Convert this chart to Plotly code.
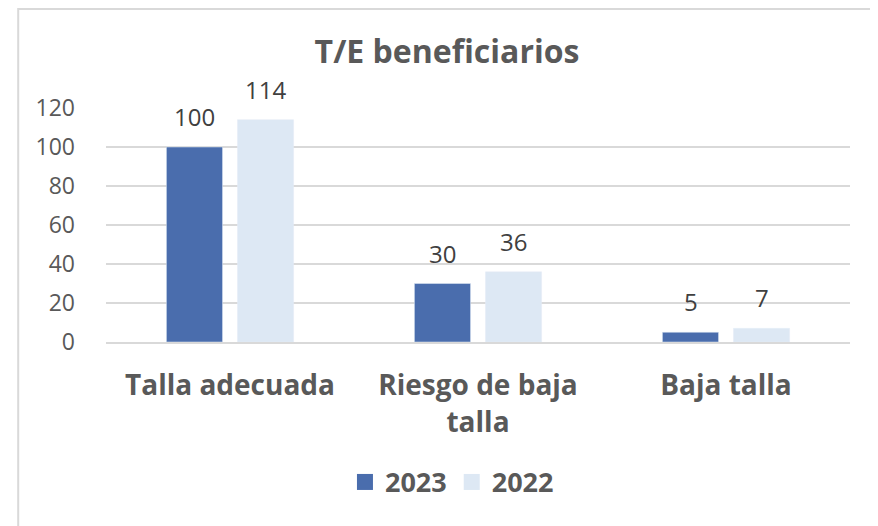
import plotly.graph_objects as go

categories = ["Talla adecuada", "Riesgo de baja<br>talla", "Baja talla"]
values_2023 = [100, 30, 5]
values_2022 = [114, 36, 7]
tick_vals = [0, 20, 40, 60, 80, 100, 120]
series_names = ["2023", "2022"]
series_colors = ["#4A6DAD", "#DDE8F4"]

FONT = "Open Sans"
TXT = "#595959"

fig = go.Figure()
series_values = [values_2023, values_2022]
for name, vals, col in zip(series_names, series_values, series_colors):
    fig.add_bar(name=name, x=categories, y=vals, marker_color=col,
                showlegend=False)
# legend-only entries with larger square swatches
for name, col in zip(series_names, series_colors):
    fig.add_scatter(name=name, x=[None], y=[None], mode="markers",
                    marker=dict(symbol="square", size=16, color=col))

# value labels above each bar (offset to grouped bar centres)
annotations = []
for k, vals in enumerate(series_values):
    shift = -35.5 if k == 0 else 35.5
    for cat, v in zip(categories, vals):
        annotations.append(dict(x=cat, y=v, xref="x", yref="y", text=str(v),
                                showarrow=False, xshift=shift, yshift=12,
                                yanchor="bottom", xanchor="center",
                                font=dict(family=FONT, size=24, color="#404040")))

fig.update_layout(
    width=878, height=526,
    margin=dict(l=98, r=36, t=100, b=192),
    paper_bgcolor="white", plot_bgcolor="white",
    barmode="group", bargap=0.427, bargroupgap=0.21,
    title=dict(text="<b>T/E beneficiarios</b>", x=0.5, xanchor="center",
               y=0.917, yanchor="middle",
               font=dict(family=FONT, size=32, color=TXT)),
    font=dict(family=FONT, color=TXT, size=20),
    showlegend=True,
    legend=dict(orientation="h", x=0.465, xanchor="center", y=-0.6, yanchor="middle",
                font=dict(family=FONT, size=27, color=TXT, weight="bold"),
                itemwidth=30, traceorder="normal", itemsizing="trace"),
    yaxis=dict(range=[0, 120], tickvals=tick_vals, showgrid=True, gridcolor="#D9D9D9",
               gridwidth=1.5, zeroline=False, showline=False, ticks="",
               ticklabelstandoff=30,
               tickfont=dict(family=FONT, size=23, color=TXT)),
    xaxis=dict(showline=True, linecolor="#D9D9D9", linewidth=1.5, ticks="",
               ticklabelstandoff=18,
               tickfont=dict(family=FONT, size=28, color=TXT, weight="bold")),
    annotations=annotations,
    shapes=[dict(type="rect", xref="paper", yref="paper",
                 x0=-0.118, x1=1.036, y0=-1.0, y1=1.423,
                 line=dict(color="#D9D9D9", width=2), layer="below")],
)

fig.write_html("out.html")
